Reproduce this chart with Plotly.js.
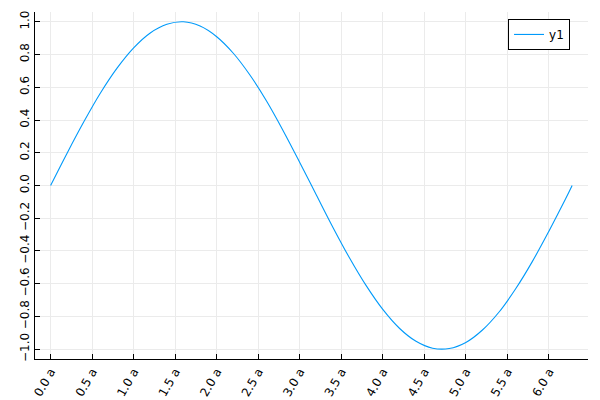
<!DOCTYPE html>
<html>
<head>
<meta charset="utf-8">
<script src="https://cdn.plot.ly/plotly-3.0.1.min.js"></script>
<style>
  html, body { margin: 0; padding: 0; background: #fff; }
  #chart { width: 600px; height: 400px; }
</style>
</head>
<body>
<div id="chart"></div>
<script>
// values
const xValues = [0, 0.2, 0.4, 0.6, 0.8, 1.0, 1.2, 1.4, 1.6, 1.8, 2.0, 2.2, 2.4, 2.6, 2.8, 3.0,
  3.2, 3.4, 3.6, 3.8, 4.0, 4.2, 4.4, 4.6, 4.8, 5.0, 5.2, 5.4, 5.6, 5.8, 6.0, 6.2, 6.28];
const y1Values = [0, 0.199, 0.389, 0.565, 0.717, 0.841, 0.932, 0.985, 1.0, 0.974, 0.909, 0.808,
  0.675, 0.516, 0.335, 0.141, -0.058, -0.256, -0.443, -0.612, -0.757, -0.872, -0.952, -0.994,
  -0.996, -0.959, -0.883, -0.773, -0.631, -0.465, -0.279, -0.083, 0];
const seriesName = 'y1';

const xTickVals = [0, 0.5, 1, 1.5, 2, 2.5, 3, 3.5, 4, 4.5, 5, 5.5, 6];
const xTickText = ['0.0 a', '0.5 a', '1.0 a', '1.5 a', '2.0 a', '2.5 a', '3.0 a',
  '3.5 a', '4.0 a', '4.5 a', '5.0 a', '5.5 a', '6.0 a'];
const yTickVals = [-1, -0.8, -0.6, -0.4, -0.2, 0, 0.2, 0.4, 0.6, 0.8, 1];
const yTickText = ['\u22121.0', '\u22120.8', '\u22120.6', '\u22120.4', '\u22120.2', '0.0',
  '0.2', '0.4', '0.6', '0.8', '1.0'];

const traces = [{
  x: xValues,
  y: y1Values,
  type: 'scatter',
  mode: 'lines',
  name: seriesName,
  line: { color: '#009AFA', width: 1.1, shape: 'spline', smoothing: 1 }
}];

const axisCommon = {
  showgrid: true,
  gridcolor: '#ebebeb',
  gridwidth: 1,
  zeroline: false,
  showline: true,
  linecolor: '#000',
  linewidth: 1,
  mirror: false,
  ticks: 'inside',
  ticklen: 5,
  tickcolor: '#000',
  tickfont: { size: 12, color: '#000' },
  tickmode: 'array'
};

const layout = {
  font: { family: 'DejaVu Sans', size: 12, color: '#000' },
  width: 600,
  height: 400,
  paper_bgcolor: '#fff',
  plot_bgcolor: '#fff',
  margin: { l: 35, r: 12, t: 12, b: 41 },
  showlegend: true,
  xaxis: Object.assign({}, axisCommon, {
    range: [-0.188, 6.471],
    tickvals: xTickVals,
    ticktext: xTickText,
    tickangle: -60
  }),
  yaxis: Object.assign({}, axisCommon, {
    range: [-1.06, 1.06],
    tickvals: yTickVals,
    ticktext: yTickText,
    tickangle: -90
  }),
  legend: {
    x: 0.9675,
    xanchor: 'right',
    y: 0.98,
    yanchor: 'top',
    bordercolor: '#000',
    borderwidth: 1,
    bgcolor: '#fff',
    font: { size: 12 }
  }
};

Plotly.newPlot('chart', traces, layout, { displayModeBar: false, staticPlot: true });
</script>
</body>
</html>
